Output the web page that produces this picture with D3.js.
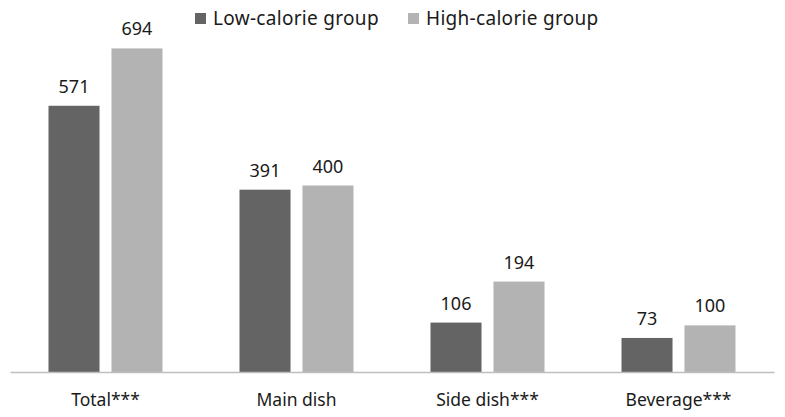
<!DOCTYPE html>
<html>
<head>
<meta charset="utf-8">
<script src="https://cdn.jsdelivr.net/npm/d3@7"></script>
<style>
  body { margin: 0; background: #fff; }
  text { font-family: "Noto Sans", "DejaVu Sans", sans-serif; fill: #1a1a1a; }
</style>
</head>
<body>
<div id="chart"></div>
<script>
const categories = ["Total***", "Main dish", "Side dish***", "Beverage***"];
const seriesNames = ["Low-calorie group", "High-calorie group"];
const lowValues = [571, 391, 106, 73];
const highValues = [694, 400, 194, 100];

const colors = ["#646464", "#b3b3b3"];

const W = 785, H = 417;
const svg = d3.select("#chart").append("svg")
    .attr("width", W)
    .attr("height", H);

const x = d3.scaleBand()
    .domain(categories)
    .range([10, 774]);

const inner = d3.scaleBand()
    .domain([0, 1])
    .range([x.bandwidth() / 2 - 57, x.bandwidth() / 2 + 57])
    .paddingInner(0.19);

const y = d3.scaleLinear()
    .domain([0, 800])
    .range([372, -1]);

const rows = categories.map((c, i) => ({ cat: c, vals: [lowValues[i], highValues[i]] }));

const groups = svg.selectAll(".grp")
    .data(rows)
    .enter().append("g")
    .attr("class", "grp")
    .attr("transform", d => `translate(${x(d.cat)},0)`);

groups.selectAll("rect")
    .data(d => d.vals.map((v, k) => ({ v, k })))
    .enter().append("rect")
    .attr("x", d => inner(d.k))
    .attr("y", d => y(d.v))
    .attr("width", inner.bandwidth())
    .attr("height", d => y(0) - y(d.v))
    .attr("fill", d => colors[d.k]);

groups.selectAll(".lbl")
    .data(d => d.vals.map((v, k) => ({ v, k })))
    .enter().append("text")
    .attr("class", "lbl")
    .attr("x", d => inner(d.k) + inner.bandwidth() / 2)
    .attr("y", d => y(d.v) - 13)
    .attr("text-anchor", "middle")
    .style("font-size", "18px")
    .text(d => d.v);

// axis
const xAxis = svg.append("g")
    .attr("transform", `translate(0,${y(0)})`)
    .call(d3.axisBottom(x).tickSize(0).tickPadding(22));
xAxis.select(".domain").attr("stroke", "#bfbfbf").attr("stroke-width", 1.5);
xAxis.selectAll("text")
    .style("font-size", "17.5px")
    .style("font-family", "'Noto Sans', sans-serif")
    .attr("fill", "#1a1a1a");

// legend
const legendX = [195, 408];
const legend = svg.selectAll(".leg")
    .data(seriesNames)
    .enter().append("g")
    .attr("class", "leg")
    .attr("transform", (d, i) => `translate(${legendX[i]},13)`);
legend.append("rect")
    .attr("width", 11)
    .attr("height", 11)
    .attr("fill", (d, i) => colors[i]);
legend.append("text")
    .attr("x", 18)
    .attr("y", 12)
    .style("font-size", "19px")
    .style("letter-spacing", "0.3px")
    .text(d => d);
</script>
</body>
</html>
